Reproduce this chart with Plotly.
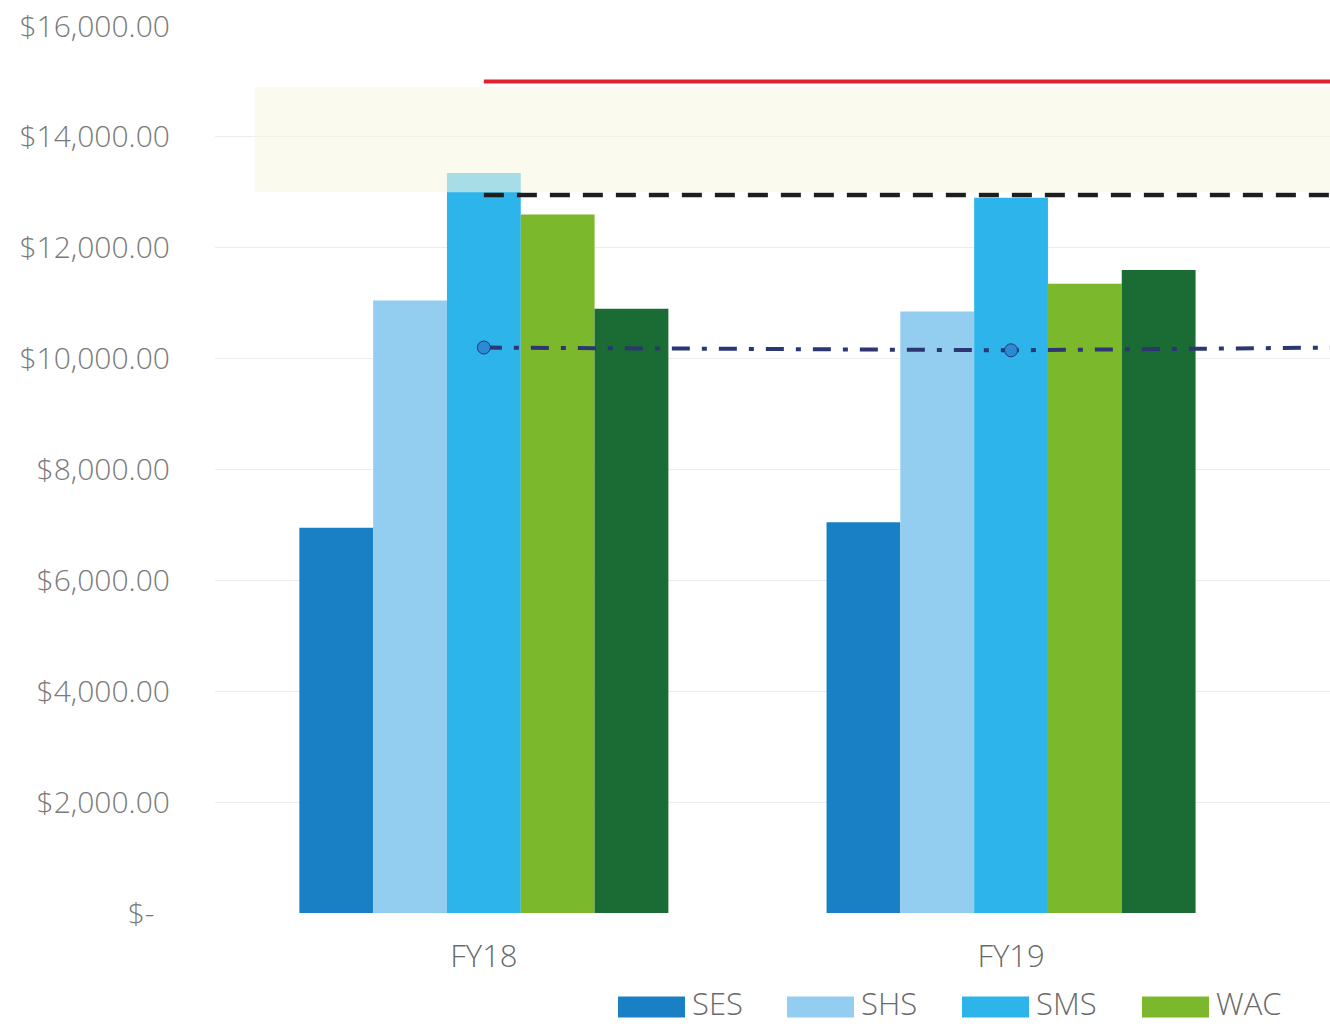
import plotly.graph_objects as go

# ---------------- data ----------------
categories = ["FY18", "FY19"]
cat_pos = [0, 1]
series_names = ["SES", "SHS", "SMS", "WAC", "Other"]
series_values = {
    "SES":   [6950, 7050],
    "SHS":   [11050, 10850],
    "SMS":   [13350, 12900],
    "WAC":   [12600, 11350],
    "Other": [10900, 11600],
}
series_colors = ["#1a80c6", "#93cdf0", "#2db4ea", "#7cb82b", "#1b6b34"]
legend_names = ["SES", "SHS", "SMS", "WAC"]

line_x = [0, 1, 2]
red_line = [15000, 15000, 15000]
black_dash = [12950, 12950, 12950]
navy_dashdot = [10200, 10150, 10230]
band_low, band_high = 13000, 14900

y_ticks = [0, 2000, 4000, 6000, 8000, 10000, 12000, 14000, 16000]
y_ticktext = ["$-\u00a0\u00a0", "$2,000.00", "$4,000.00", "$6,000.00", "$8,000.00",
              "$10,000.00", "$12,000.00", "$14,000.00", "$16,000.00"]

# ---------------- layout geometry ----------------
W, H = 1330, 1035
L, R, T, B = 215, 0, 26, 122
plot_w = W - L - R
plot_h = H - T - B

def px_x(px):
    return (px - L) / plot_w

def px_y(py):
    return (H - B - py) / plot_h

FONT = "Open Sans"

fig = go.Figure()

for name, color in zip(series_names, series_colors):
    fig.add_trace(go.Bar(
        x=cat_pos, y=series_values[name], name=name,
        marker=dict(color=color, line=dict(width=0)),
        showlegend=False,
    ))

fig.add_trace(go.Scatter(
    x=line_x, y=red_line, mode="lines",
    line=dict(color="#e0212f", width=4), showlegend=False))
fig.add_trace(go.Scatter(
    x=line_x, y=black_dash, mode="lines",
    line=dict(color="#1e1e1e", width=4.5, dash="20px,13px"), showlegend=False))
fig.add_trace(go.Scatter(
    x=line_x, y=navy_dashdot, mode="lines+markers",
    line=dict(color="#2b3672", width=4, dash="18px,12px,5px,12px"),
    marker=dict(color="#2a8ad4", size=13, line=dict(color="#2b3672", width=1)),
    showlegend=False))

# translucent band
fig.add_shape(type="rect", xref="x", yref="y", x0=-0.435, x1=1.7,
              y0=band_low, y1=band_high,
              fillcolor="rgba(247,248,226,0.6)", line=dict(width=0), layer="above")

# custom legend with wide swatches
legend_swatch_px = [618, 787, 962, 1142]
sw_w, sw_h = 67, 21
legend_y = 1007
for nm, sx in zip(legend_names, legend_swatch_px):
    col = series_colors[series_names.index(nm)]
    fig.add_shape(type="rect", xref="paper", yref="paper",
                  x0=px_x(sx), x1=px_x(sx + sw_w),
                  y0=px_y(legend_y + sw_h / 2), y1=px_y(legend_y - sw_h / 2),
                  fillcolor=col, line=dict(width=0))
    fig.add_annotation(xref="paper", yref="paper", x=px_x(sx + sw_w + 5), y=px_y(legend_y - 4),
                       text=nm, showarrow=False, xanchor="left", yanchor="middle",
                       font=dict(family=FONT, size=31, color="#6a6a6a", weight=300))

fig.update_layout(
    width=W, height=H,
    margin=dict(l=L, r=R, t=T, b=B),
    paper_bgcolor="white", plot_bgcolor="white",
    barmode="group", bargap=0.30, bargroupgap=0,
    font=dict(family=FONT, size=30, color="#777777"),
    showlegend=False,
)
fig.update_xaxes(
    range=[-0.51, 1.605], tickvals=cat_pos, ticktext=categories,
    showgrid=False, zeroline=False, showline=False, ticks="",
    tickfont=dict(family=FONT, size=31, color="#6a6a6a", weight=300),
    ticklabelstandoff=22,
)
fig.update_yaxes(
    range=[0, 16000], tickvals=y_ticks, ticktext=y_ticktext,
    showgrid=True, gridcolor="#ececec", gridwidth=1,
    zeroline=False, showline=False, ticks="",
    tickfont=dict(family=FONT, size=30, color="#7a7a7a", weight=300),
    ticklabelstandoff=44,
)

fig.write_html("out.html")
